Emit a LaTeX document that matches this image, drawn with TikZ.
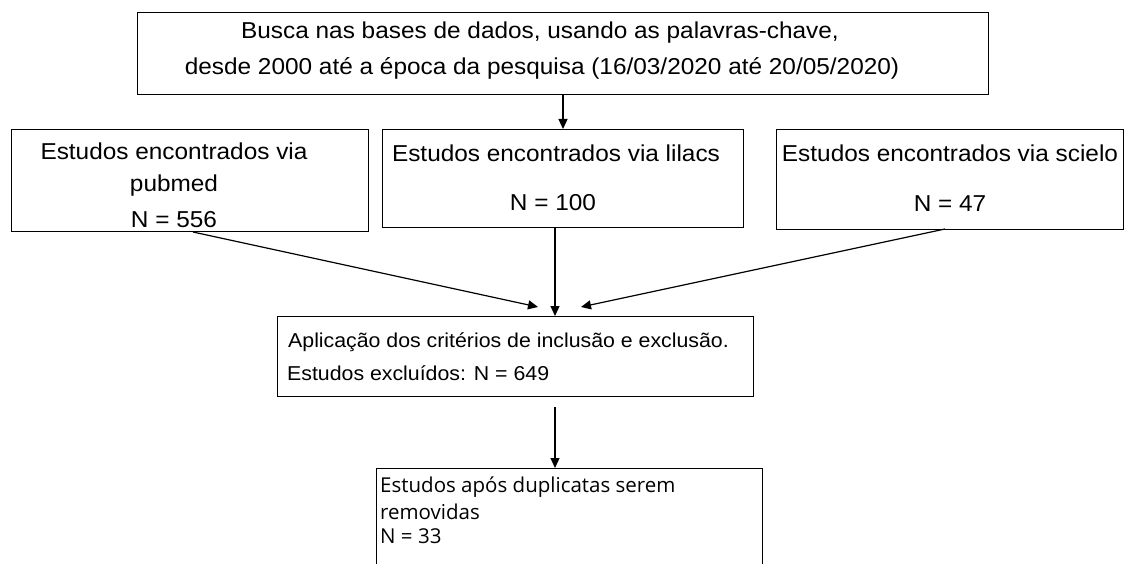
\documentclass[tikz,border=0pt]{standalone}
\usepackage{fontspec}
\setmainfont{Liberation Sans}[FakeStretch=1.06]
\newfontfamily\myrfont{Open Sans}
\usetikzlibrary{arrows.meta}
\begin{document}
\begin{tikzpicture}[x=1pt,y=-1pt,
  box/.style={draw=black,line width=1.1pt,inner sep=0pt,anchor=north west},
  txt/.style={inner sep=0pt,font=\fontsize{23}{35}\selectfont},
  mtxt/.style={inner sep=0pt,anchor=west,font=\fontsize{20.1}{30}\selectfont},
  btxt/.style={inner sep=0pt,anchor=west,font=\myrfont\fontsize{20.5}{25}\selectfont},
  arr/.style={line width=1.2pt,-{Triangle[length=10pt,width=9pt]}}]
\useasboundingbox (0,0) rectangle (1126,564);
\clip (0,0) rectangle (1126,564);
% boxes
\node[box,minimum width=851pt,minimum height=82pt] (top) at (137,12) {};
\node[box,minimum width=357pt,minimum height=102pt] (pub) at (11,129) {};
\node[box,minimum width=361pt,minimum height=98pt] (lil) at (382,129) {};
\node[box,minimum width=347pt,minimum height=100pt] (sci) at (776,129) {};
\node[box,minimum width=476pt,minimum height=80pt] (mid) at (277,316) {};
\node[box,minimum width=386pt,minimum height=140pt] (bot) at (376,468) {};
% texts
\node[txt] (t1) at (540,33) {Busca nas bases de dados, usando as palavras-chave,};
\node[txt] (t2) at (542,68) {desde 2000 até a época da pesquisa (16/03/2020 até 20/05/2020)};
\node[txt] (p1) at (174,151) {Estudos encontrados via};
\node[txt] (p2) at (174,186) {pubmed};
\node[txt] (p3) at (174,220) {N = 556};
\node[txt] (l1) at (556,153) {Estudos encontrados via lilacs};
\node[txt] (l2) at (553,203) {N = 100};
\node[txt] (s1) at (950,153) {Estudos encontrados via scielo};
\node[txt] (s2) at (950,204) {N = 47};
\node[mtxt] (m1) at (288,342) {Aplicação dos critérios de inclusão e exclusão.};
\node[mtxt] (m2) at (287,373) {Estudos excluídos: N = 649};
\node[btxt] (b1) at (380,487) {Estudos após duplicatas serem};
\node[btxt] (b2) at (380,512) {removidas};
\node[btxt] (b3) at (380,536) {N = 33};
% connector end points
\coordinate (a0s) at (563,94);
\coordinate (a0e) at (563,129);
\coordinate (a1s) at (193,232);
\coordinate (a1e) at (538,307);
\coordinate (a2s) at (555,227);
\coordinate (a2e) at (555,316);
\coordinate (a3s) at (945,229);
\coordinate (a3e) at (581,307);
\coordinate (a4s) at (555,407);
\coordinate (a4e) at (555,468);
\draw[arr] (a0s) -- (a0e);
\draw[arr] (a1s) -- (a1e);
\draw[arr] (a2s) -- (a2e);
\draw[arr] (a3s) -- (a3e);
\draw[arr] (a4s) -- (a4e);
\end{tikzpicture}
\end{document}
